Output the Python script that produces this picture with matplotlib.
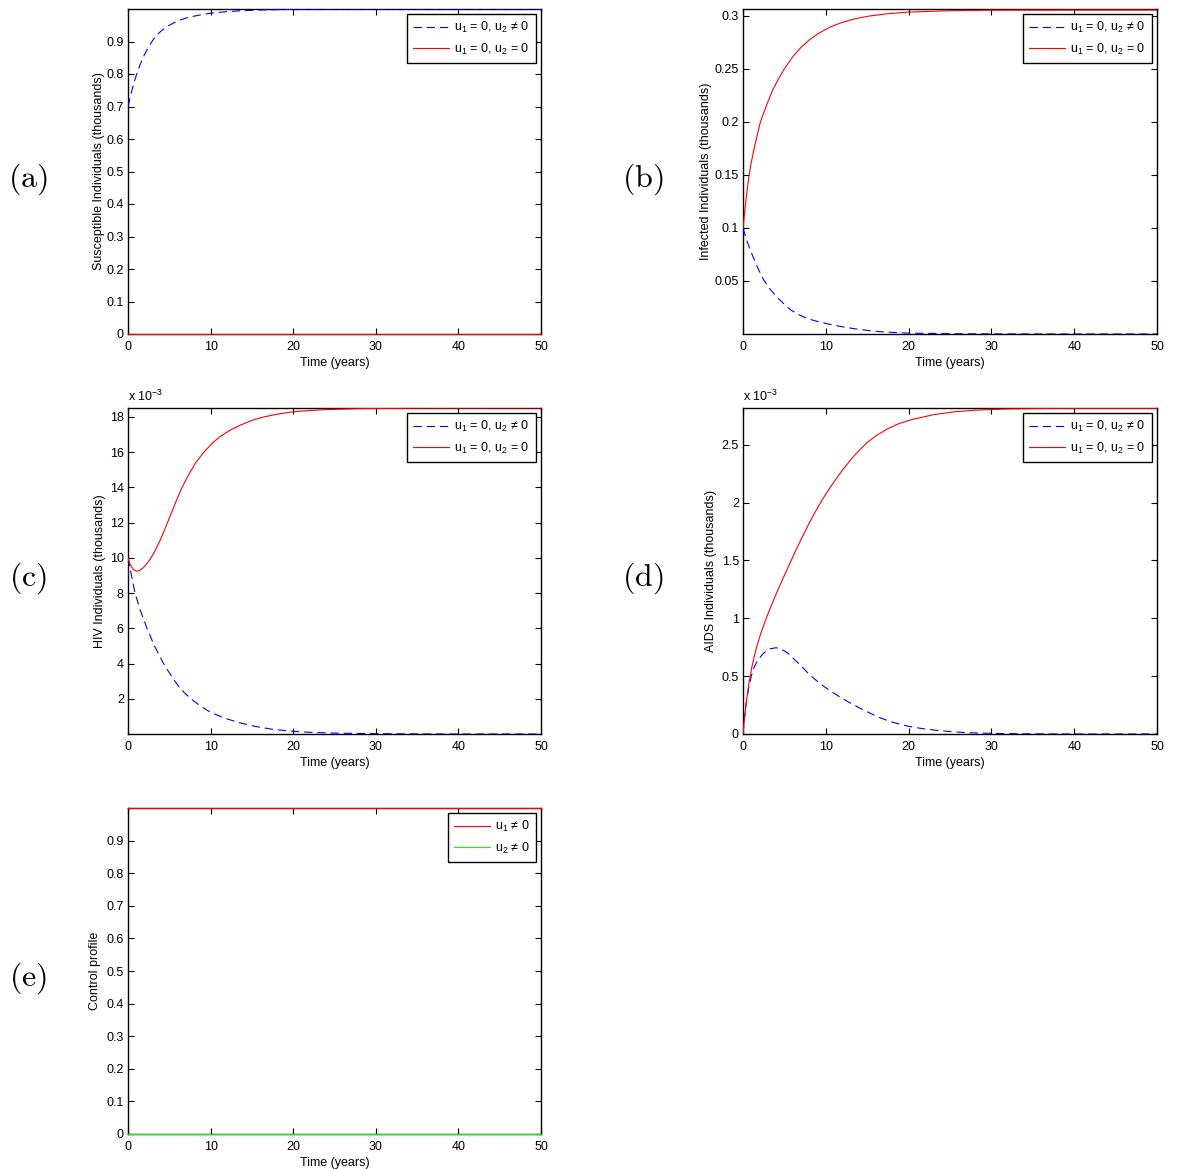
import matplotlib
matplotlib.use("Agg")
import matplotlib.pyplot as plt
from matplotlib.ticker import FormatStrFormatter

plt.rcParams['font.family'] = ['Liberation Sans', 'DejaVu Sans']
plt.rcParams['mathtext.fontset'] = 'custom'
plt.rcParams['mathtext.rm'] = 'Liberation Sans'
plt.rcParams['mathtext.it'] = 'Liberation Sans'
plt.rcParams['font.size'] = 9
plt.rcParams['lines.scale_dashes'] = False

# (a) susceptible, thousands
t_sus = [0, 0.25, 0.5, 0.75, 1, 1.25, 1.5, 2, 2.5, 3, 3.5, 4, 4.5, 5, 6, 7, 8,
         9, 10, 12, 14, 16, 18, 20, 25, 30, 40, 50]
sus_ctrl = [0.70, 0.727, 0.752, 0.775, 0.795, 0.814, 0.831, 0.86, 0.884, 0.904,
            0.92, 0.932, 0.942, 0.95, 0.963, 0.972, 0.978, 0.983, 0.987, 0.992,
            0.995, 0.997, 0.998, 0.999, 1.0, 1.0, 1.0, 1.0]
t_flat = [0, 50]
sus_none = [0, 0]

# (b) infected, thousands
t_inf_none = [0, 0.35, 0.7, 1.0, 1.4, 2.1, 2.8, 3.55, 4.2, 5.0, 6.0, 7.0, 8.0,
              9.1, 10.5, 11.9, 13.5, 15.2, 17.5, 20, 25, 30, 40, 50]
inf_none = [0.1, 0.126, 0.148, 0.162, 0.177, 0.2, 0.215, 0.2296, 0.2395, 0.2502,
            0.2615, 0.2703, 0.2774, 0.2835, 0.2895, 0.2938, 0.2973, 0.2999,
            0.3022, 0.3037, 0.305, 0.3055, 0.3056, 0.3056]
t_inf_ctrl = [0, 0.5, 1.1, 1.8, 2.5, 3.3, 4.2, 5.0, 5.8, 6.8, 7.8, 9.0, 10.3,
              12, 13.6, 15.3, 17, 20, 25, 30, 40, 50]
inf_ctrl = [0.1, 0.087, 0.075, 0.062, 0.051, 0.042, 0.034, 0.028, 0.0225,
            0.018, 0.0145, 0.0118, 0.0094, 0.0068, 0.0048, 0.0031, 0.0019,
            0.0008, 0.0003, 0.0001, 0.0, 0.0]

# (c) HIV, units of 1e-3 thousands
t_hiv_none = [0, 0.2, 0.4, 0.7, 1.06, 1.4, 1.8, 2.2, 2.7, 3.3, 3.9, 4.7, 5.3,
              5.9, 6.5, 7.2, 8.2, 9.2, 10.2, 11.2, 12.5, 13.7, 15, 16.5, 18.3,
              20.2, 23.5, 27.5, 35, 50]
hiv_none = [10.0, 9.7, 9.5, 9.32, 9.24, 9.29, 9.42, 9.62, 9.93, 10.42, 11.0,
            11.9, 12.6, 13.3, 13.95, 14.6, 15.4, 16.0, 16.5, 16.9, 17.28,
            17.55, 17.8, 18.0, 18.17, 18.3, 18.4, 18.46, 18.49, 18.5]
t_hiv_ctrl = [0, 0.4, 0.85, 1.5, 2.3, 3.2, 4.3, 5.1, 5.9, 6.7, 7.6, 8.8, 10,
              11.6, 13.3, 15.3, 17.3, 19.5, 21.8, 25, 30, 35, 40, 50]
hiv_ctrl = [10.0, 9.05, 8.0, 7.0, 6.0, 5.0, 4.0, 3.4, 2.85, 2.4, 2.0, 1.58,
            1.23, 0.92, 0.66, 0.44, 0.28, 0.17, 0.1, 0.05, 0.02, 0.005, 0.0, 0.0]

# (d) AIDS, units of 1e-3 thousands
t_aids_none = [0, 0.2, 0.41, 0.7, 1.1, 1.6, 2.1, 2.7, 3.3, 4, 4.8, 5.5, 6.2, 7,
               7.9, 8.8, 9.7, 10.7, 12, 13, 14, 15, 16, 17.5, 18.9, 20.5, 23,
               25.5, 28.2, 32, 38, 50]
aids_none = [0, 0.15, 0.28, 0.43, 0.59, 0.74, 0.86, 0.98, 1.09, 1.21, 1.34,
             1.45, 1.56, 1.68, 1.81, 1.93, 2.04, 2.15, 2.28, 2.37, 2.45, 2.52,
             2.575, 2.64, 2.685, 2.72, 2.76, 2.785, 2.80, 2.81, 2.815, 2.815]
t_aids_ctrl = [0, 0.15, 0.3, 0.5, 0.7, 1.0, 1.3, 1.8, 2.5, 3.2, 4.0, 4.7, 5.4,
               6.2, 7, 7.8, 8.65, 9.6, 10.7, 11.7, 12.7, 14, 15.2, 16.4, 17.6,
               18.8, 20.1, 21.7, 23.3, 25, 27, 30, 35, 40, 50]
aids_ctrl = [0, 0.12, 0.22, 0.32, 0.40, 0.50, 0.57, 0.64, 0.70, 0.735, 0.746,
             0.73, 0.70, 0.645, 0.59, 0.53, 0.475, 0.42, 0.365, 0.32, 0.278,
             0.228, 0.185, 0.145, 0.112, 0.087, 0.065, 0.046, 0.032, 0.021,
             0.012, 0.005, 0.001, 0.0, 0.0]

# (e) controls
u1 = [1, 1]
u2 = [0, 0]

lab_ctrl = r'u$_{\mathregular{1}}$ = 0, u$_{\mathregular{2}}$ ≠ 0'
lab_none = r'u$_{\mathregular{1}}$ = 0, u$_{\mathregular{2}}$ = 0'
lab_u1 = r'u$_{\mathregular{1}}$ ≠ 0'
lab_u2 = r'u$_{\mathregular{2}}$ ≠ 0'

W, H = 1181, 1169
fig = plt.figure(figsize=(W / 100, H / 100), dpi=100)


def make_ax(left, top, right, bottom):
    ax = fig.add_axes([left / W, 1 - bottom / H, (right - left) / W, (bottom - top) / H])
    ax.tick_params(direction='in', top=True, right=True, length=4, width=0.8, pad=3,
                   labelsize=9)
    ax.tick_params(axis='x', pad=5)
    for s in ax.spines.values():
        s.set_linewidth(1.0)
    ax.set_xlim(0, 50)
    ax.set_xticks([0, 10, 20, 30, 40, 50])
    ax.set_xlabel('Time (years)', labelpad=3)
    ax.yaxis.set_major_formatter(FormatStrFormatter('%g'))
    return ax


def add_legend(ax):
    leg = ax.legend(loc='upper right', fancybox=False, framealpha=1, edgecolor='black',
                    fontsize=9, handlelength=2.9, borderaxespad=0.4, borderpad=0.5,
                    labelspacing=0.5, handletextpad=0.4)
    leg.get_frame().set_linewidth(1.0)


dash = (0, (6, 3.5))
lw = 0.8

# (a)
ax = make_ax(128, 9, 541, 334)
ax.plot(t_sus, sus_ctrl, color='blue', ls=dash, lw=lw, label=lab_ctrl, zorder=3)
ax.plot(t_flat, sus_none, color='red', lw=lw, label=lab_none, zorder=3, clip_on=False)
ax.set_ylim(0, 1)
ax.set_yticks([0, 0.1, 0.2, 0.3, 0.4, 0.5, 0.6, 0.7, 0.8, 0.9])
ax.set_ylabel('Susceptible Individuals (thousands)', labelpad=1)
add_legend(ax)

# (b)
ax = make_ax(743, 9, 1157, 334)
ax.plot(t_inf_ctrl, inf_ctrl, color='blue', ls=dash, lw=lw, label=lab_ctrl, zorder=3)
ax.plot(t_inf_none, inf_none, color='red', lw=lw, label=lab_none, zorder=3)
ax.set_ylim(0, 0.3066)
ax.set_yticks([0.05, 0.1, 0.15, 0.2, 0.25, 0.3])
ax.set_ylabel('Infected Individuals (thousands)', labelpad=2)
add_legend(ax)

# (c)
ax = make_ax(128, 408, 541, 734)
ax.plot(t_hiv_ctrl, hiv_ctrl, color='blue', ls=dash, lw=lw, label=lab_ctrl, zorder=3)
ax.plot(t_hiv_none, hiv_none, color='red', lw=lw, label=lab_none, zorder=3)
ax.set_ylim(0, 18.5)
ax.set_yticks([2, 4, 6, 8, 10, 12, 14, 16, 18])
ax.set_ylabel('HIV Individuals (thousands)', labelpad=3)
ax.text(0, 1.012, r'x 10$^{\mathregular{-3}}$', transform=ax.transAxes, fontsize=9,
        ha='left', va='bottom')
add_legend(ax)

# (d)
ax = make_ax(743, 408, 1157, 734)
ax.plot(t_aids_ctrl, aids_ctrl, color='blue', ls=dash, lw=lw, label=lab_ctrl, zorder=3)
ax.plot(t_aids_none, aids_none, color='red', lw=lw, label=lab_none, zorder=3)
ax.set_ylim(0, 2.818)
ax.set_yticks([0, 0.5, 1, 1.5, 2, 2.5])
ax.set_ylabel('AIDS Individuals (thousands)', labelpad=3)
ax.text(0, 1.012, r'x 10$^{\mathregular{-3}}$', transform=ax.transAxes, fontsize=9,
        ha='left', va='bottom')
add_legend(ax)

# (e)
ax = make_ax(128, 808, 541, 1134)
ax.plot(t_flat, u1, color='red', lw=lw, label=lab_u1, zorder=3, clip_on=False)
ax.plot(t_flat, u2, color='#00ff00', lw=lw, label=lab_u2, zorder=3, clip_on=False)
ax.set_ylim(0, 1)
ax.set_yticks([0, 0.1, 0.2, 0.3, 0.4, 0.5, 0.6, 0.7, 0.8, 0.9])
ax.set_ylabel('Control profile', labelpad=4)
add_legend(ax)

# panel letters
for letter, x, y in [('a', 28, 179), ('b', 643, 179), ('c', 28, 578),
                     ('d', 643, 578), ('e', 28, 978)]:
    fig.text(x / W, 1 - y / H, r'$\mathrm{(%s)}$' % letter, math_fontfamily='cm',
             fontsize=23, ha='center', va='center')

fig.savefig('out.png', dpi=100)
